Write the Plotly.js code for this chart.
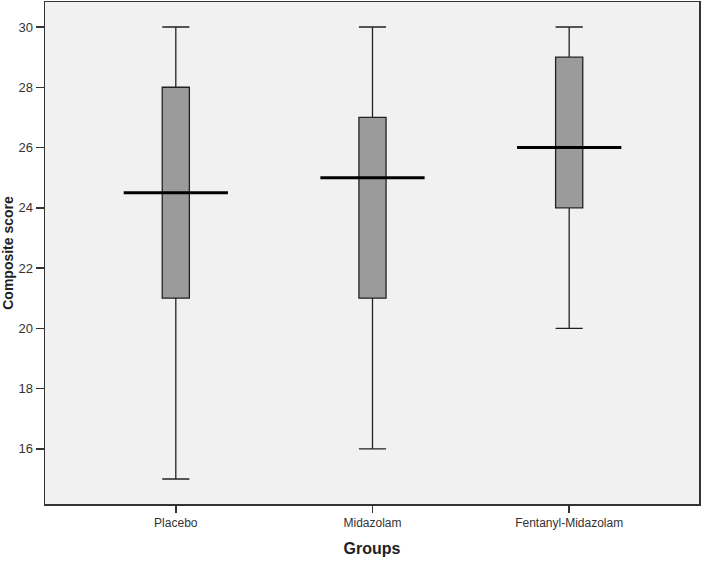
<!DOCTYPE html>
<html>
<head>
<meta charset="utf-8">
<script src="https://cdn.plot.ly/plotly-3.0.1.min.js"></script>
<style>html,body{margin:0;padding:0;background:#fff;overflow:hidden;}#chart{width:705px;height:564px;}</style>
</head>
<body>
<div id="chart"></div>
<script>
var groups = ["Placebo", "Midazolam", "Fentanyl-Midazolam"];
var lowerWhisker = [15, 16, 20];
var q1 = [21, 21, 24];
var medians = [24.5, 25, 26];
var q3 = [28, 27, 29];
var upperWhisker = [30, 30, 30];
var yTicks = [16, 18, 20, 22, 24, 26, 28, 30];

var positions = groups.map(function (g, i) { return i; });
var halfMedian = 0.265;

var traces = groups.map(function (g, i) {
  return {
    type: 'box',
    name: g,
    x: [positions[i]],
    q1: [q1[i]],
    median: [medians[i]],
    q3: [q3[i]],
    lowerfence: [lowerWhisker[i]],
    upperfence: [upperWhisker[i]],
    width: 0.138,
    whiskerwidth: 1,
    fillcolor: '#9b9b9b',
    line: {color: '#222', width: 1.3},
    hoverinfo: 'skip',
    showlegend: false
  };
});

var mx = [], my = [];
groups.forEach(function (g, i) {
  mx.push(positions[i] - halfMedian, positions[i] + halfMedian, null);
  my.push(medians[i], medians[i], null);
});
traces.push({
  type: 'scatter', mode: 'lines', x: mx, y: my,
  line: {color: '#000', width: 3}, hoverinfo: 'skip', showlegend: false
});

var layout = {
  width: 705, height: 564,
  margin: {l: 45, r: 6, t: 2, b: 60},
  paper_bgcolor: '#fff',
  plot_bgcolor: '#f1f1f1',
  font: {family: 'Liberation Sans, Arial, sans-serif', color: '#333'},
  xaxis: {
    type: 'linear',
    range: [-0.665, 2.66],
    tickvals: positions,
    ticktext: groups,
    ticks: 'outside', ticklen: 7, tickwidth: 1.5, tickcolor: '#333',
    showgrid: false, zeroline: false,
    showline: true, mirror: true, linecolor: '#333', linewidth: 1.5,
    tickfont: {size: 12, color: '#333'},
    title: {text: '<b>Groups</b>', font: {size: 16, color: '#222'}, standoff: 14}
  },
  yaxis: {
    range: [14.17, 30.83],
    tickvals: yTicks,
    ticks: 'outside', ticklen: 8, tickwidth: 1.5, tickcolor: '#333',
    showgrid: false, zeroline: false,
    showline: true, mirror: true, linecolor: '#333', linewidth: 1.5,
    tickfont: {size: 13, color: '#333'},
    title: {text: '<b>Composite score</b>', font: {size: 14, color: '#222'}, standoff: 8}
  }
};

Plotly.newPlot('chart', traces, layout, {displayModeBar: false, staticPlot: true});
</script>
</body>
</html>
